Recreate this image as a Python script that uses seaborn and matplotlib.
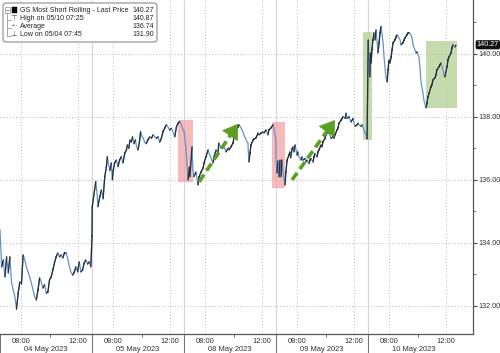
import numpy as np
import pandas as pd
import matplotlib
matplotlib.use("Agg")
import matplotlib.pyplot as plt
import seaborn as sns
from matplotlib.patches import Rectangle, FancyBboxPatch
from matplotlib.transforms import blended_transform_factory

# ---------------- data ----------------
day_labels = ["04 May 2023", "05 May 2023", "08 May 2023", "09 May 2023", "10 May 2023"]
time_tick_labels = ["08:00", "12:00"]
time_tick_minutes = [90, 330]          # minutes after 06:30 session open
minor_tick_minutes = [210]             # 10:00
session_minutes = 390                  # 06:30 - 13:00
ytick_values = [132, 134, 136, 138, 140]

d1_min = [0, 7, 14, 21, 28, 35, 42, 49, 56, 63, 70, 77, 84, 91, 98, 105, 112, 119, 126, 133,
          140, 147, 154, 161, 168, 175, 182, 189, 196, 203, 210, 217, 224, 231, 238, 245, 252,
          259, 266, 273, 280, 287, 294, 301, 308, 315, 322, 329, 336, 343, 350, 357, 364, 371,
          378, 385]
d1_px = [134.41, 133.24, 133.46, 132.92, 133.56, 133.05, 133.56, 132.73, 132.51, 132.29,
         131.90, 132.41, 132.76, 132.70, 133.62, 133.46, 133.24, 133.08, 132.92, 132.73,
         132.51, 132.29, 132.19, 132.51, 132.89, 132.76, 132.57, 132.67, 132.41, 132.44,
         132.83, 132.92, 133.14, 133.37, 133.56, 133.68, 133.56, 133.62, 133.52, 133.68,
         133.68, 133.52, 133.24, 133.08, 132.98, 133.08, 133.24, 133.08, 133.40, 133.08,
         133.14, 133.37, 133.46, 133.33, 133.40, 133.24]

d2_min = [0, 1, 7, 11, 16, 21, 25, 33, 40, 47, 54, 61, 65, 71, 76, 82, 86, 90, 96, 103, 110,
          117, 124, 131, 139, 146, 150, 156, 161, 167, 172, 178, 184, 189, 195, 201, 206, 212,
          218, 223, 230, 237, 245, 252, 259, 266, 273, 280, 287, 294, 301, 308, 315, 322, 329,
          336, 343, 351, 358, 365, 372, 379, 386]
d2_px = [134.20, 135.15, 135.47, 135.68, 135.95, 135.59, 135.15, 135.47, 135.68, 135.40,
         136.10, 136.42, 136.74, 136.45, 136.30, 136.54, 136.00, 136.30, 136.54, 136.63,
         136.42, 136.63, 136.74, 136.54, 136.85, 136.95, 137.11, 137.00, 137.27, 137.20,
         137.37, 137.15, 137.27, 137.05, 136.95, 137.20, 137.53, 137.37, 137.32, 137.20,
         137.15, 137.27, 137.37, 137.32, 137.43, 137.37, 137.32, 137.37, 137.20, 137.32,
         137.53, 137.64, 137.75, 137.69, 137.58, 137.64, 137.53, 137.37, 137.69, 137.80,
         137.85, 137.75, 137.58]

d3_min = [0, 8, 17, 23, 25, 34, 38, 42, 51, 59, 64, 72, 81, 85, 93, 102, 106, 114, 123, 127,
          136, 144, 148, 157, 165, 170, 178, 187, 191, 199, 208, 212, 220, 229, 233, 242, 250,
          254, 263, 271, 275, 280, 284, 293, 297, 305, 314, 318, 327, 335, 339, 348, 356, 360,
          369, 377, 382, 390]
d3_px = [137.55, 137.05, 136.00, 136.41, 136.10, 137.05, 136.32, 136.10, 136.25, 135.84,
         136.10, 136.25, 136.38, 136.54, 136.73, 136.95, 136.86, 136.70, 136.54, 136.73,
         136.95, 136.86, 137.17, 137.01, 137.11, 137.05, 136.89, 137.01, 136.95, 137.05,
         137.17, 137.37, 137.52, 137.68, 137.75, 137.65, 137.52, 137.43, 137.27, 137.17,
         136.57, 136.86, 137.11, 137.27, 137.30, 137.33, 137.49, 137.43, 137.49, 137.52,
         137.49, 137.59, 137.43, 137.59, 137.65, 137.75, 137.59, 137.21]

d4_min = [0, 4, 8, 13, 17, 20, 21, 25, 30, 34, 38, 42, 47, 55, 59, 62, 68, 72, 76, 81, 85,
          89, 93, 98, 106, 110, 114, 123, 127, 131, 140, 144, 148, 157, 161, 165, 174, 178,
          182, 191, 195, 199, 208, 212, 216, 225, 229, 233, 242, 246, 250, 259, 263, 267, 276,
          280, 284, 293, 297, 301, 310, 314, 318, 327, 331, 335, 344, 348, 352, 360, 365, 369,
          378, 382, 386]
d4_px = [136.63, 136.22, 136.60, 136.10, 136.63, 136.20, 136.10, 136.63, 136.20, 136.06,
         135.84, 136.25, 136.63, 136.79, 136.89, 136.70, 136.98, 137.05, 136.89, 137.11,
         136.95, 136.79, 136.89, 136.73, 136.63, 136.73, 136.63, 136.68, 136.57, 136.63,
         136.52, 136.63, 136.68, 136.57, 136.73, 136.84, 136.73, 136.89, 136.95, 137.11,
         137.05, 137.21, 137.32, 137.43, 137.49, 137.49, 137.43, 137.32, 137.38, 137.32,
         137.43, 137.59, 137.65, 137.80, 137.90, 137.95, 138.01, 137.95, 138.12, 137.95,
         138.01, 137.90, 137.84, 137.95, 137.80, 137.70, 137.75, 137.80, 137.75, 137.70,
         137.75, 137.65, 137.49, 137.43, 137.30]

d5_min = [1, 4, 8, 10, 13, 17, 21, 25, 30, 34, 38, 42, 47, 51, 55, 59, 64, 68, 72, 76, 81,
          85, 89, 93, 98, 102, 106, 114, 119, 123, 131, 136, 140, 148, 153, 157, 165, 170,
          174, 182, 187, 191, 199, 204, 208, 216, 220, 225, 233, 237, 242, 246, 250, 254, 259,
          267, 271, 275, 284, 288, 292, 301, 305, 309, 318, 322, 326, 335, 339, 343, 352, 356,
          360, 369, 373]
d5_px = [140.44, 139.81, 139.27, 140.03, 139.71, 140.13, 140.44, 140.67, 140.44, 140.76,
         140.44, 140.03, 140.35, 140.67, 140.87, 140.67, 140.35, 139.90, 139.59, 139.27,
         139.11, 139.49, 139.81, 139.71, 139.90, 140.13, 140.35, 140.44, 140.54, 140.60,
         140.51, 140.44, 140.29, 140.35, 140.44, 140.51, 140.60, 140.67, 140.67, 140.60,
         140.51, 140.29, 140.13, 140.03, 140.06, 139.90, 139.59, 139.08, 138.76, 138.54,
         138.38, 138.29, 138.44, 138.63, 138.76, 138.95, 139.02, 139.17, 139.24, 139.33,
         139.49, 139.59, 139.65, 139.71, 139.49, 139.33, 139.27, 139.59, 139.81, 139.90,
         140.03, 140.19, 140.29, 140.22, 140.27]

legend_rows = [("GS Most Short Rolling - Last Price", "140.27"),
               ("High on 05/10 07:25", "140.87"),
               ("Average", "136.74"),
               ("Low on 05/04 07:45", "131.90")]
last_price = 140.27

# highlight boxes: (day, start minute, end day, end minute, low, high)
red_boxes = [(1, 365, 2, 38, 135.94, 137.90), (2, 372, 3, 38, 135.74, 137.85)]
green_boxes = [(3, 368, 4, 15, 137.27, 140.71), (4, 244, 4, 378, 138.28, 140.42)]
arrows = [((2, 64, 135.94), (2, 229, 137.78)), ((3, 68, 136.00), (3, 250, 137.90))]

# ---------------- build ----------------
mins = [d1_min, d2_min, d3_min, d4_min, d5_min]
pxs = [d1_px, d2_px, d3_px, d4_px, d5_px]
frames = []
for i, (m, p) in enumerate(zip(mins, pxs)):
    frames.append(pd.DataFrame({"pos": np.array(m, float) + i * session_minutes,
                                "price": np.array(p, float)}))
df = pd.concat(frames, ignore_index=True)

sns.set_theme(style="white")
plt.rcParams['font.family'] = ['Liberation Sans', 'DejaVu Sans']

fig = plt.figure(figsize=(5.0, 3.53), dpi=100)
fig.patch.set_facecolor("white")
ax = fig.add_axes([0.0, 19 / 353, 473 / 500, 334 / 353])
ax.set_facecolor("white")

xmax = 473 / 92 * session_minutes
ymin, ymax = 131.11, 141.71
ax.set_xlim(0, xmax)
ax.set_ylim(ymin, ymax)

grid_kw = dict(color="#b8b8b8", lw=0.7, linestyle=(0, (1, 2.2)), zorder=0)
for v in ytick_values:
    ax.axhline(v, **grid_kw)
major_x = []
for d in range(5):
    for m in time_tick_minutes:
        major_x.append(d * session_minutes + m)
for v in major_x:
    ax.axvline(v, **grid_kw)
seps = [d * session_minutes for d in range(1, 5)]
ax.vlines(seps, ymin, ymax, color="#d5d5d5", lw=0.8, zorder=0)

# shaded boxes
def pos(day, minute):
    return day * session_minutes + minute

for (d0, m0, d1, m1, lo, hi) in red_boxes:
    ax.add_patch(Rectangle((pos(d0, m0), lo), pos(d1, m1) - pos(d0, m0), hi - lo,
                           facecolor="#f3a3a6", alpha=0.75, edgecolor="none", zorder=1))
for (d0, m0, d1, m1, lo, hi) in green_boxes:
    ax.add_patch(Rectangle((pos(d0, m0), lo), pos(d1, m1) - pos(d0, m0), hi - lo,
                           facecolor="#b3cf92", alpha=0.75, edgecolor="none", zorder=1))

# price line: falling segments blue, rising segments dark
sns.lineplot(data=df, x="pos", y="price", ax=ax, color="#5f93cc", lw=0.9,
             estimator=None, sort=False, zorder=3)
xs, ys = df["pos"].to_numpy(), df["price"].to_numpy()
ux, uy = [], []
for i in range(len(xs) - 1):
    if ys[i + 1] >= ys[i]:
        ux += [xs[i], xs[i + 1], np.nan]
        uy += [ys[i], ys[i + 1], np.nan]
ax.plot(ux, uy, color="#2a2d33", lw=0.9, zorder=4)

# dashed green arrows (dashed shaft + solid head)
arrow_green = "#5c9e23"
for (a, b) in arrows:
    x0, y0 = pos(a[0], a[1]), a[2]
    x1, y1 = pos(b[0], b[1]), b[2]
    f = 0.86
    xm, ym = x0 + f * (x1 - x0), y0 + f * (y1 - y0)
    ax.plot([x0, xm], [y0, ym], color=arrow_green, lw=2.6, linestyle=(0, (2.4, 1.3)),
            solid_capstyle="butt", dash_capstyle="butt", zorder=5)
    ax.annotate("", xy=(x1, y1), xytext=(xm, ym),
                arrowprops=dict(arrowstyle="-|>,head_length=0.75,head_width=0.5",
                                lw=0.5, color=arrow_green, mutation_scale=13,
                                shrinkA=0, shrinkB=0), zorder=5)

# axes styling
ax.set_xlabel("")
ax.set_ylabel("")
for s in ["top", "left"]:
    ax.spines[s].set_visible(False)
for s in ["right", "bottom"]:
    ax.spines[s].set_visible(True)
    ax.spines[s].set_color("#555555")
    ax.spines[s].set_linewidth(0.9)

ax.yaxis.tick_right()
ax.set_yticks(ytick_values)
ax.set_yticklabels([f"{v:.2f}" for v in ytick_values])
ax.set_yticks([133, 135, 137, 139, 141], minor=True)
ax.tick_params(axis="y", which="major", direction="out", length=3, width=0.8,
               color="#444444", pad=1, labelsize=5.2, labelcolor="#333333")
ax.tick_params(axis="y", which="minor", direction="out", length=2, width=0.6,
               color="#666666", right=True, left=False)

ax.set_xticks(major_x)
ax.set_xticklabels(time_tick_labels * 5)
minor_x = [d * session_minutes + m for d in range(5) for m in minor_tick_minutes]
ax.set_xticks(minor_x, minor=True)
ax.tick_params(axis="x", which="major", direction="out", length=2.5, width=0.7,
               color="#555555", pad=0.5, labelsize=5.4, labelcolor="#333333")
ax.tick_params(axis="x", which="minor", direction="out", length=2, width=0.6,
               color="#555555", bottom=True)

tx = ax.get_xaxis_transform()
ax.vlines([d * session_minutes for d in range(5)], -0.06, 0, transform=tx,
          color="#777777", lw=0.8, clip_on=False)
for d, lab in enumerate(day_labels):
    ax.text(d * session_minutes + 195, -0.047, lab, transform=tx, ha="center", va="center",
            fontsize=5.4, color="#333333", clip_on=False)

# last price tag
ty = blended_transform_factory(ax.transAxes, ax.transData)
ax.text(1.008, last_price + 0.02, f"{last_price:.2f}", transform=ty, ha="left", va="center",
        fontsize=5.2, color="white", clip_on=False, zorder=10,
        bbox=dict(boxstyle="round,pad=0.15,rounding_size=0.25", facecolor="#111111",
                  edgecolor="none"))

# legend box
def ay(ypx):
    return 1 - ypx / 334

def axx(xpx):
    return xpx / 473

ax.add_patch(FancyBboxPatch((axx(3), ay(42)), axx(154), ay(3) - ay(42),
                            boxstyle="round,pad=0,rounding_size=0.008",
                            transform=ax.transAxes, facecolor="white", edgecolor="#8c8c8c",
                            lw=0.8, zorder=8))
row_y = [10, 18, 26, 34]
for (label, val), yy in zip(legend_rows, row_y):
    ax.text(axx(20), ay(yy), label, transform=ax.transAxes, fontsize=5.0, color="#222222",
            ha="left", va="center", zorder=9)
    ax.text(axx(154), ay(yy), val, transform=ax.transAxes, fontsize=5.0, color="#222222",
            ha="right", va="center", zorder=9)
# tree lines
ax.plot([axx(7), axx(7)], [ay(13), ay(36)], transform=ax.transAxes, color="#9a9a9a",
        lw=0.6, zorder=9)
for yy in row_y[1:]:
    ax.plot([axx(7), axx(11)], [ay(yy + 2), ay(yy + 2)], transform=ax.transAxes,
            color="#9a9a9a", lw=0.6, zorder=9)
ax.add_patch(Rectangle((axx(4.5), ay(12.5)), axx(5), ay(7.5) - ay(12.5), transform=ax.transAxes,
                       facecolor="white", edgecolor="#8a8a8a", lw=0.5, zorder=9))
ax.plot([axx(5.5), axx(8.5)], [ay(10), ay(10)], transform=ax.transAxes, color="#666666",
        lw=0.5, zorder=10)
ax.add_patch(Rectangle((axx(11.5), ay(13)), axx(5.5), ay(7.5) - ay(13), transform=ax.transAxes,
                       facecolor="black", edgecolor="black", lw=0.3, zorder=9))
ax.text(axx(14), ay(18), "\u22a4", transform=ax.transAxes, fontsize=5.4, color="#555555",
        ha="center", va="center", family="DejaVu Sans", zorder=9)
ax.text(axx(14), ay(26), "-\u2022-", transform=ax.transAxes, fontsize=4, color="#555555",
        ha="center", va="center", family="DejaVu Sans", zorder=9)
ax.text(axx(14), ay(34), "\u22a5", transform=ax.transAxes, fontsize=5.4, color="#555555",
        ha="center", va="center", family="DejaVu Sans", zorder=9)

fig.savefig("out.png", dpi=100, facecolor="white")
